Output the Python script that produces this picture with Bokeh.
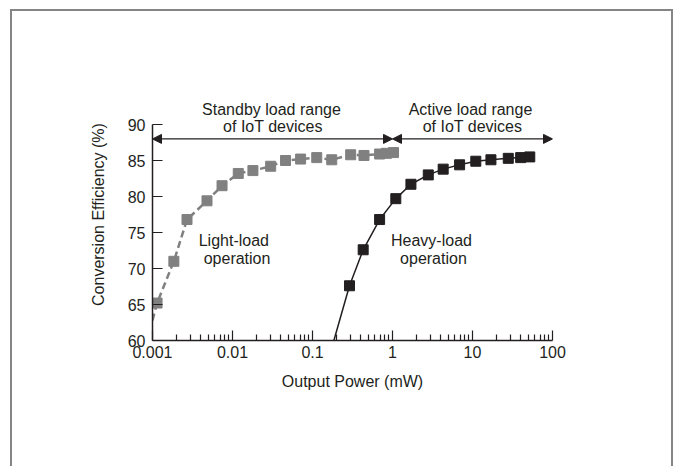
from bokeh.plotting import figure
from bokeh.models import FixedTicker, Range1d, Arrow, NormalHead
from bokeh.core.properties import value
from bokeh.embed import file_html
from bokeh.resources import INLINE

# ---- data ----
light_power_mw = [0.00114, 0.00185, 0.0027, 0.0048, 0.0074, 0.0118, 0.018, 0.030,
                  0.046, 0.071, 0.113, 0.174, 0.30, 0.44, 0.69, 0.84, 1.03]
light_eff = [65.2, 71.0, 76.8, 79.4, 81.5, 83.2, 83.6, 84.2,
             85.0, 85.2, 85.4, 85.1, 85.8, 85.7, 85.9, 86.0, 86.1]
light_curve_start_x = [0.001]
light_curve_start_y = [62.8]

heavy_power_mw = [0.29, 0.43, 0.69, 1.1, 1.7, 2.8, 4.3, 6.9, 11, 17, 28, 40, 52]
heavy_eff = [67.6, 72.6, 76.8, 79.7, 81.7, 83.0, 83.8, 84.4, 84.9, 85.1, 85.3, 85.4, 85.5]
heavy_curve_start_x = [0.185]
heavy_curve_start_y = [60.0]

x_ticks = [0.001, 0.01, 0.1, 1, 10, 100]
x_tick_labels = ["0.001", "0.01", "0.1", "1", "10", "100"]
y_ticks = [60, 65, 70, 75, 80, 85, 90]
decades = [0.001, 0.01, 0.1, 1, 10]
x_minor_ticks = [d * m for d in decades for m in range(2, 10)]

standby_range = [0.001, 1]
active_range = [1, 100]
range_arrow_level = 88.0

# ---- styling ----
FONT = "Liberation Sans"
TXT = "#231f20"
GRAY = "#808080"
BLACK = "#231f20"

p = figure(width=663, height=457, x_axis_type="log",
           x_range=Range1d(0.001, 100), y_range=Range1d(60, 95),
           output_backend="svg", toolbar_location=None,
           min_border_left=140, min_border_right=123,
           min_border_top=77, min_border_bottom=128)
p.margin = (9, 0, 0, 10)
p.outline_line_color = None
p.xgrid.grid_line_color = None
p.ygrid.grid_line_color = None
p.background_fill_color = "white"
p.border_fill_color = "white"
p.styles = {"border-top": "2px solid #858585",
            "border-left": "2px solid #858585",
            "border-right": "2px solid #858585"}

# x axis
xa = p.xaxis[0]
xa.ticker = FixedTicker(ticks=x_ticks, minor_ticks=x_minor_ticks)
xa.major_label_overrides = dict(zip(x_ticks, x_tick_labels))
xa.major_tick_in = 10
xa.major_tick_out = 0
xa.minor_tick_in = 6
xa.minor_tick_out = 0
xa.axis_label = "Output Power (mW)"

# y axis
ya = p.yaxis[0]
ya.ticker = FixedTicker(ticks=y_ticks)
ya.bounds = (60, 90)
ya.major_tick_in = 10
ya.major_tick_out = 0
ya.minor_tick_in = 0
ya.minor_tick_out = 0
ya.axis_label = "Conversion Efficiency (%)"

for ax in (xa, ya):
    ax.axis_line_color = BLACK
    ax.axis_line_width = 1.5
    ax.major_tick_line_color = BLACK
    ax.major_tick_line_width = 1.2
    ax.minor_tick_line_color = BLACK
    ax.minor_tick_line_width = 1.2
    ax.major_label_text_font = FONT
    ax.major_label_text_font_size = "16px"
    ax.major_label_text_color = TXT
    ax.axis_label_text_font = FONT
    ax.axis_label_text_font_size = "16px"
    ax.axis_label_text_font_style = "normal"
    ax.axis_label_text_color = TXT
xa.major_label_standoff = 5
xa.axis_label_standoff = 12
ya.major_label_standoff = 7
ya.axis_label_standoff = 18

# curves
p.line(light_curve_start_x + light_power_mw, light_curve_start_y + light_eff,
       line_color=GRAY, line_width=2.5, line_dash="7 4")
p.scatter(light_power_mw, light_eff, marker="square", size=10,
          fill_color=GRAY, line_color=GRAY)

p.line(heavy_curve_start_x + heavy_power_mw, heavy_curve_start_y + heavy_eff,
       line_color=BLACK, line_width=1.5)
p.scatter(heavy_power_mw, heavy_eff, marker="square", size=10,
          fill_color=BLACK, line_color=BLACK)

# range arrows
for rng in (standby_range, active_range):
    p.add_layout(Arrow(
        start=NormalHead(size=9, fill_color=BLACK, line_color=BLACK),
        end=NormalHead(size=9, fill_color=BLACK, line_color=BLACK),
        x_start=rng[0], x_end=rng[1],
        y_start=range_arrow_level, y_end=range_arrow_level,
        line_color=BLACK, line_width=1.2))

# annotations
ann_x = [0.0307, 0.032, 9.44, 10.0, 0.0104, 0.0114, 3.07, 3.25]
ann_y = [92.1, 89.7, 92.1, 89.7, 73.9, 71.4, 73.9, 71.4]
ann_t = ["Standby load range", "of IoT devices",
         "Active load range", "of IoT devices",
         "Light-load", "operation",
         "Heavy-load", "operation"]
p.text(ann_x, ann_y, text=ann_t, text_font=value(FONT), text_font_size="16px",
       text_color=TXT, text_align="center", text_baseline="middle")

open("out.html", "w").write(file_html(p, INLINE))
